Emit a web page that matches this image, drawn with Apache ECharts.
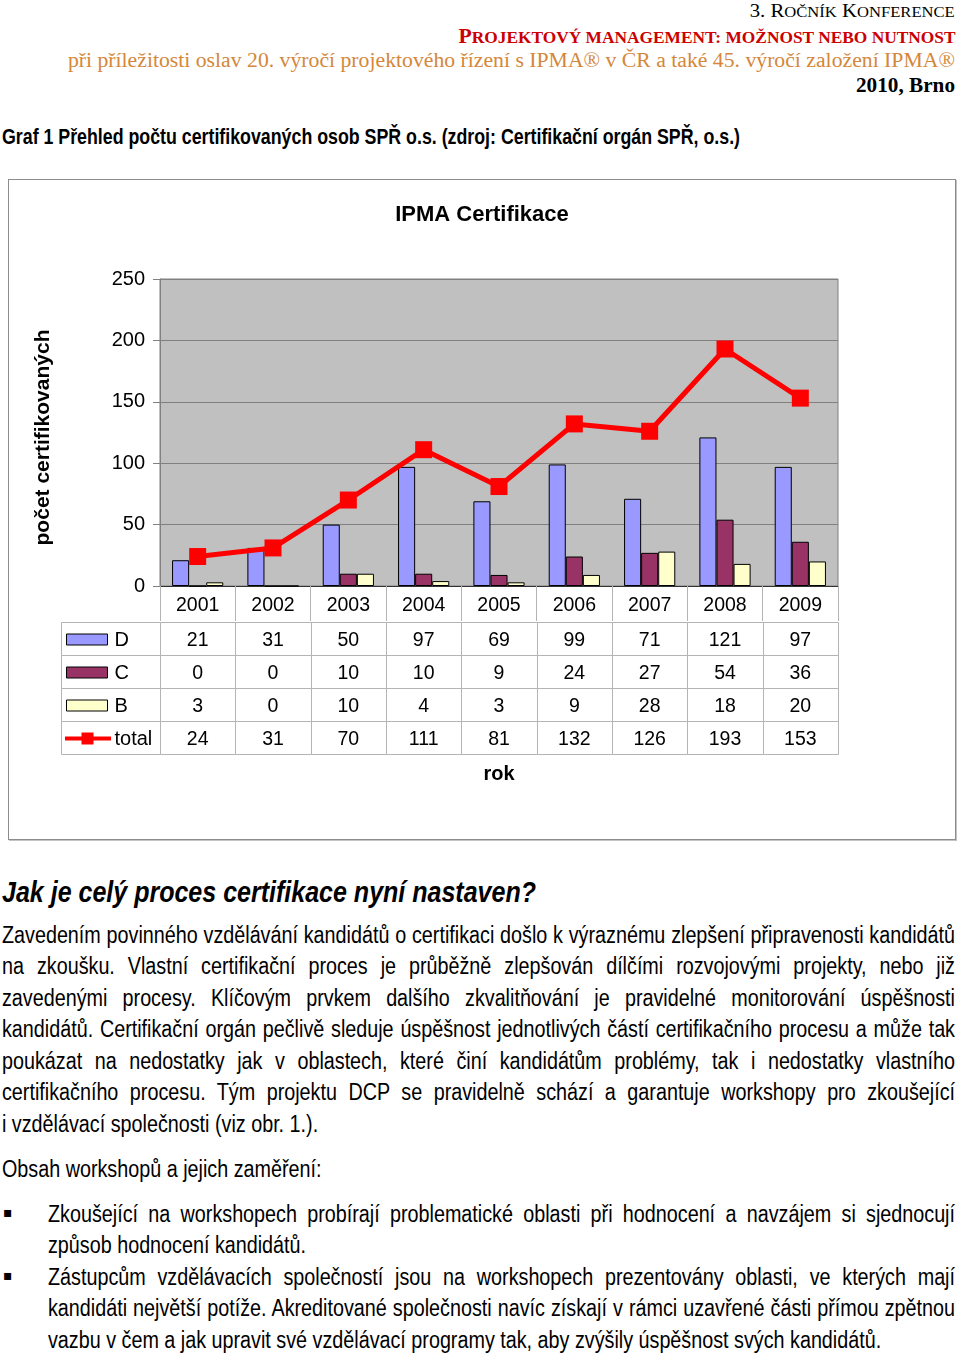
<!DOCTYPE html>
<html>
<head>
<meta charset="utf-8">
<script src="https://cdn.jsdelivr.net/npm/echarts@6/dist/echarts.min.js"></script>
<style>
  html, body { margin:0; padding:0; background:#fff; }
  #page { position:relative; width:960px; height:1356px; overflow:hidden; background:#fff; }
  .ln { position:absolute; white-space:nowrap; display:inline-block; }
  .serif { font-family:"Liberation Serif","Times New Roman",serif; }
  .sans { font-family:"Liberation Sans",Arial,sans-serif; }
  .sm { font-size:0.8em; }
  #box { position:absolute; left:8px; top:179px; width:948px; height:661px; box-sizing:border-box;
         border:1px solid #8c8c8c; box-shadow:1px 1px 0 #c4c4c4; background:#fff; }
  #chart { position:absolute; left:0; top:0; width:946px; height:659px; }
  .blk { position:absolute; font-family:"Liberation Sans",Arial,sans-serif; font-size:23.5px; color:#000; transform-origin:0 0; }
  .blk div { line-height:31.5px; height:31.5px; text-align:left; white-space:normal; }
  .blk div.j { text-align:justify; text-align-last:justify; }
  .bul { position:absolute; left:3px; font-size:14px; font-family:"DejaVu Sans",sans-serif; }
</style>
</head>
<body>
<div id="page">
  <div class="ln serif fitR" data-w="205" style="right:5px;top:0px;font-size:19px;line-height:22px;color:#000;">3. R<span class="sm">OČNÍK</span> K<span class="sm">ONFERENCE</span></div>
  <div class="ln serif fitR" data-w="497" style="right:5px;top:24px;font-size:20px;line-height:24px;font-weight:bold;color:#cc0000;">P<span class="sm">ROJEKTOVÝ MANAGEMENT: MOŽNOST NEBO NUTNOST</span></div>
  <div class="ln serif fitR" data-w="887" style="right:5px;top:48px;font-size:20px;line-height:24px;color:#d4873a;">při příležitosti oslav 20. výročí projektového řízení s IPMA® v ČR a také 45. výročí založení IPMA®</div>
  <div class="ln serif fitR" data-w="99" style="right:5px;top:73px;font-size:21px;line-height:25px;font-weight:bold;color:#000;">2010, Brno</div>
  <div class="ln sans fitL" data-w="738" style="left:2px;top:124px;font-size:22px;line-height:26px;font-weight:bold;color:#000;">Graf 1 Přehled počtu certifikovaných osob SPŘ o.s. (zdroj: Certifikační orgán SPŘ, o.s.)</div>

  <div id="box"><div id="chart"></div></div>

  <div class="ln sans fitL" data-w="534" style="left:2px;top:874px;font-size:30px;line-height:36px;font-weight:bold;font-style:italic;color:#000;">Jak je celý proces certifikace nyní nastaven?</div>

  <div class="blk" id="para" style="left:2px;top:919.5px;">
    <div class="j">Zavedením povinného vzdělávání kandidátů o certifikaci došlo k výraznému zlepšení připravenosti kandidátů</div>
    <div class="j">na zkoušku. Vlastní certifikační proces je průběžně zlepšován dílčími rozvojovými projekty, nebo již</div>
    <div class="j">zavedenými procesy. Klíčovým prvkem dalšího zkvalitňování je pravidelné monitorování úspěšnosti</div>
    <div class="j">kandidátů. Certifikační orgán pečlivě sleduje úspěšnost jednotlivých částí certifikačního procesu a může tak</div>
    <div class="j">poukázat na nedostatky jak v&nbsp;oblastech, které činí kandidátům problémy, tak i nedostatky vlastního</div>
    <div class="j">certifikačního procesu. Tým projektu DCP se pravidelně schází a garantuje workshopy pro zkoušející</div>
    <div>i vzdělávací společnosti (viz obr. 1.).</div>
  </div>
  <div class="blk" id="obsah" style="left:2px;top:1153.5px;">
    <div>Obsah workshopů a jejich zaměření:</div>
  </div>
  <div class="bul" style="top:1204px;">▪</div>
  <div class="bul" style="top:1267px;">▪</div>
  <div class="blk" id="bullets" style="left:48px;top:1198.5px;">
    <div class="j">Zkoušející na workshopech probírají problematické oblasti při hodnocení a navzájem si sjednocují</div>
    <div>způsob hodnocení kandidátů.</div>
    <div class="j">Zástupcům vzdělávacích společností jsou na workshopech prezentovány oblasti, ve kterých mají</div>
    <div class="j">kandidáti největší potíže. Akreditované společnosti navíc získají v rámci uzavřené části přímou zpětnou</div>
    <div>vazbu v&nbsp;čem a jak upravit své vzdělávací programy tak, aby zvýšily úspěšnost svých kandidátů.</div>
  </div>
</div>

<script>
// ---------------- data ----------------
const years = ['2001','2002','2003','2004','2005','2006','2007','2008','2009'];
const valuesD = [21, 31, 50, 97, 69, 99, 71, 121, 97];
const valuesC = [0, 0, 10, 10, 9, 24, 27, 54, 36];
const valuesB = [3, 0, 10, 4, 3, 9, 28, 18, 20];
const valuesTotal = [24, 31, 70, 111, 81, 132, 126, 193, 153];
const rowNames = ['D', 'C', 'B', 'total'];
const yMin = 0, yMax = 250, yStep = 50;

// ---------------- styles ----------------
const colD = '#9999FF', colC = '#993366', colB = '#FFFFCC', colTotal = '#FF0000';
const rowColors = [colD, colC, colB, colTotal];
const FONT = 'Liberation Sans';
const tableLine = '#b4b4b4';

// ---------------- text fitting ----------------
function natWidth(text, size) {
  const probe = document.createElement('span');
  probe.style.cssText = 'position:absolute;visibility:hidden;white-space:nowrap;font-family:"Liberation Sans",Arial,sans-serif;font-size:' + size + 'px;';
  probe.textContent = text;
  document.body.appendChild(probe);
  const w = probe.getBoundingClientRect().width;
  document.body.removeChild(probe);
  return w;
}
function fitLines() {
  document.querySelectorAll('.fitR, .fitL').forEach(el => {
    el.style.transform = '';
    const w = el.getBoundingClientRect().width;
    const t = parseFloat(el.dataset.w);
    el.style.transformOrigin = el.classList.contains('fitR') ? '100% 50%' : '0 50%';
    el.style.transform = 'scaleX(' + (t / w) + ')';
  });
  let s = 10;
  document.querySelectorAll('#para div.j').forEach(d => {
    s = Math.min(s, 953 / (natWidth(d.textContent, 23.5) + 4));
  });
  document.querySelectorAll('#bullets div.j').forEach(d => {
    s = Math.min(s, 907 / (natWidth(d.textContent, 23.5) + 4));
  });
  const para = document.getElementById('para');
  para.style.width = (953 / s) + 'px';
  para.style.transform = 'scaleX(' + s + ')';
  const ob = document.getElementById('obsah');
  ob.style.width = (953 / s) + 'px';
  ob.style.transform = 'scaleX(' + s + ')';
  const bl = document.getElementById('bullets');
  bl.style.width = (907 / s) + 'px';
  bl.style.transform = 'scaleX(' + s + ')';
}
fitLines();
if (document.fonts && document.fonts.ready) document.fonts.ready.then(fitLines);

// ---------------- chart ----------------
const chart = echarts.init(document.getElementById('chart'), null, { renderer: 'canvas' });

const tableRows = [valuesD, valuesC, valuesB, valuesTotal];
const tableData = [];
tableRows.forEach((row, r) => row.forEach((v, i) => tableData.push([i, r, v])));

function renderCell(params, api) {
  const i = api.value(0), r = api.value(1), v = api.value(2);
  const c = api.coord([i, r]);
  const sz = api.size([1, 1]);
  const x0 = Math.round(c[0] - sz[0] / 2) + 0.5;
  const y0 = Math.round(c[1] - sz[1] / 2) + 0.5;
  const w = Math.round(c[0] + sz[0] / 2) + 0.5 - x0;
  const h = Math.round(c[1] + sz[1] / 2) + 0.5 - y0;
  const children = [
    { type: 'rect', shape: { x: x0, y: y0, width: w, height: h },
      style: { fill: 'none', stroke: tableLine, lineWidth: 1 } },
    { type: 'text', style: { text: String(v), x: c[0], y: c[1] + 2, align: 'center', verticalAlign: 'middle',
      fontSize: 19.5, fontFamily: FONT, fill: '#000' } }
  ];
  if (i === 0) {
    const lw = 99;
    const lx = x0 - lw;
    children.push({ type: 'rect', shape: { x: lx, y: y0, width: lw, height: h },
      style: { fill: 'none', stroke: tableLine, lineWidth: 1 } });
    const cy = Math.round(c[1]) + 0.5;
    if (r < 3) {
      children.push({ type: 'rect', shape: { x: lx + 5, y: cy - 5.5, width: 41, height: 11 },
        style: { fill: rowColors[r], stroke: '#000', lineWidth: 1 } });
    } else {
      children.push({ type: 'line', shape: { x1: lx + 3.5, y1: cy, x2: lx + 49.5, y2: cy },
        style: { stroke: colTotal, lineWidth: 4 } });
      children.push({ type: 'rect', shape: { x: lx + 20, y: cy - 6, width: 12, height: 12 },
        style: { fill: colTotal } });
    }
    children.push({ type: 'text', style: { text: rowNames[r], x: lx + 53, y: c[1] + 2, align: 'left',
      verticalAlign: 'middle', fontSize: 20, fontFamily: FONT, fill: '#000' } });
  }
  return { type: 'group', children: children };
}

function barSeries(name, data, color) {
  return { name: name, type: 'bar', xAxisIndex: 0, yAxisIndex: 0, data: data,
    barGap: '0%', barCategoryGap: '32%',
    itemStyle: { color: color, borderColor: '#000', borderWidth: 1 } };
}

chart.setOption({
  animation: false,
  textStyle: { fontFamily: FONT },
  title: {
    text: 'IPMA Certifikace', left: 'center', top: 19,
    textStyle: { fontSize: 22, fontWeight: 'bold', color: '#000', fontFamily: FONT }
  },
  grid: [
    { left: 151, top: 99, width: 678, height: 307, show: true, backgroundColor: '#C0C0C0',
      borderColor: '#808080', borderWidth: 1, containLabel: false },
    { left: 151, top: 442, width: 678, height: 132, show: false, containLabel: false }
  ],
  xAxis: [
    { type: 'category', gridIndex: 0, data: years, boundaryGap: true,
      axisLine: { show: true, lineStyle: { color: '#333', width: 1 } },
      axisTick: { show: true, interval: 0, length: 35, lineStyle: { color: tableLine } },
      axisLabel: { fontSize: 19.5, color: '#000', margin: 10, interval: 0, fontFamily: FONT },
      splitLine: { show: false } },
    { type: 'category', gridIndex: 1, data: years, boundaryGap: true,
      axisLine: { show: false }, axisTick: { show: false }, axisLabel: { show: false },
      name: 'rok', nameLocation: 'middle', nameGap: 10,
      nameTextStyle: { fontSize: 20, fontWeight: 'bold', color: '#000', fontFamily: FONT } }
  ],
  yAxis: [
    { type: 'value', gridIndex: 0, min: yMin, max: yMax, interval: yStep,
      name: 'počet certifikovaných', nameLocation: 'middle', nameRotate: 90, nameGap: 106,
      nameTextStyle: { fontSize: 21, fontWeight: 'bold', color: '#000', fontFamily: FONT, padding: [0, 10, 0, 0] },
      axisLine: { show: true, lineStyle: { color: '#808080' } },
      axisTick: { show: true, length: 7, lineStyle: { color: '#808080' } },
      axisLabel: { fontSize: 20, color: '#000', margin: 15, fontFamily: FONT },
      splitLine: { show: true, lineStyle: { color: '#808080', width: 1 } } },
    { type: 'category', gridIndex: 1, data: rowNames, inverse: true, show: false }
  ],
  series: [
    barSeries('D', valuesD, colD),
    barSeries('C', valuesC, colC),
    barSeries('B', valuesB, colB),
    { name: 'total', type: 'line', xAxisIndex: 0, yAxisIndex: 0, data: valuesTotal, z: 5,
      symbol: 'rect', symbolSize: 17, showAllSymbol: true,
      lineStyle: { color: colTotal, width: 5 }, itemStyle: { color: colTotal } },
    { name: 'table', type: 'custom', xAxisIndex: 1, yAxisIndex: 1, data: tableData,
      renderItem: renderCell, silent: true, z: 3 }
  ]
});
</script>
</body>
</html>
